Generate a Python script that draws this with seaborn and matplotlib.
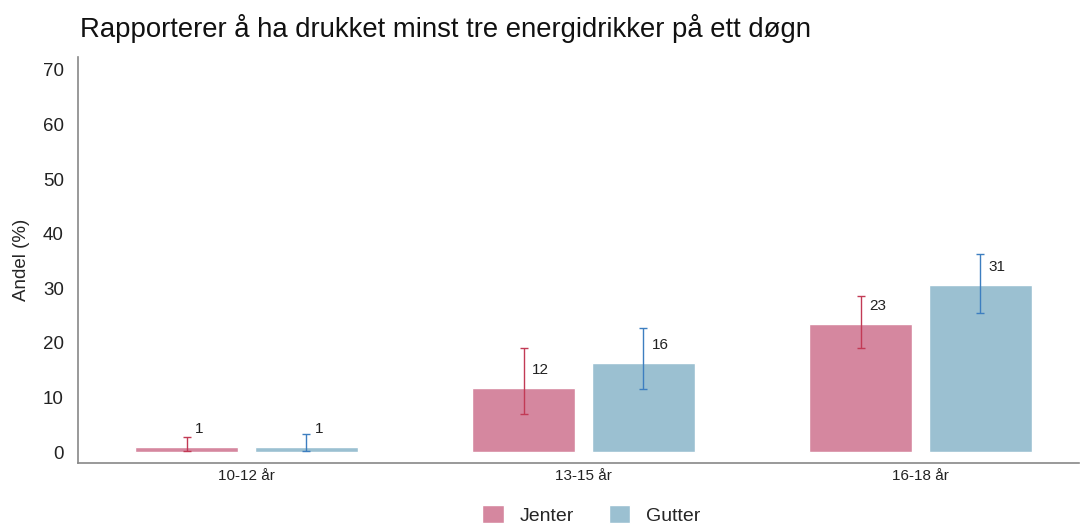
import pandas as pd
import numpy as np
import matplotlib.pyplot as plt
import seaborn as sns

# data
groups = ["10-12 år", "13-15 år", "16-18 år"]
genders = ["Jenter", "Gutter"]
jenter = [0.9, 11.8, 23.4]
gutter = [0.9, 16.4, 30.6]
jenter_lo = [0.3, 7.0, 19.0]
jenter_hi = [2.8, 19.1, 28.6]
gutter_lo = [0.3, 11.6, 25.4]
gutter_hi = [3.3, 22.7, 36.3]
jenter_lab = ["1", "12", "23"]
gutter_lab = ["1", "16", "31"]

bar_colors = {"Jenter": "#D5879F", "Gutter": "#9BC0D1"}
err_colors = {"Jenter": "#C23A55", "Gutter": "#3D7EC0"}

df = pd.DataFrame({
    "alder": groups * 2,
    "kjonn": ["Jenter"] * 3 + ["Gutter"] * 3,
    "andel": jenter + gutter,
})

sns.set_style("white")
plt.rcParams["font.family"] = ["Liberation Sans", "DejaVu Sans"]

fig = plt.figure(figsize=(10.81, 5.24), dpi=100)
ax = fig.add_axes([0.072, 0.116, 0.926, 0.775])

sns.barplot(data=df, x="alder", y="andel", hue="kjonn", order=groups,
            hue_order=genders, palette=bar_colors, width=0.71, gap=0.14,
            saturation=1, errorbar=None, ax=ax, legend=True)

lows = {"Jenter": jenter_lo, "Gutter": gutter_lo}
highs = {"Jenter": jenter_hi, "Gutter": gutter_hi}
vals = {"Jenter": jenter, "Gutter": gutter}
labs = {"Jenter": jenter_lab, "Gutter": gutter_lab}

for cont, g in zip(ax.containers, genders):
    for i, p in enumerate(cont.patches):
        xc = p.get_x() + p.get_width() / 2
        v = vals[g][i]
        lo, hi = lows[g][i], highs[g][i]
        ax.errorbar(xc, v, yerr=[[v - lo], [hi - v]], color=err_colors[g],
                    capsize=3, elinewidth=1, capthick=1, fmt="none")
        ax.annotate(labs[g][i], (xc, v), xytext=(6, 13), textcoords="offset points",
                    ha="left", va="center", fontsize=11, color="#222222")

ax.set_ylim(-2, 72.3)
ax.set_xlim(-0.5, 2.47)
ax.set_yticks(range(0, 71, 10))
ax.tick_params(axis="y", labelsize=13.5, length=0, pad=10, colors="#222222")
ax.tick_params(axis="x", labelsize=11, length=0, pad=4, colors="#222222")
ax.set_xlabel("")
ax.set_ylabel("Andel (%)", fontsize=13.5, labelpad=9)

for s in ["top", "right"]:
    ax.spines[s].set_visible(False)
for s in ["left", "bottom"]:
    ax.spines[s].set_color("#888888")
    ax.spines[s].set_linewidth(1.2)

handles, labels = ax.get_legend_handles_labels()
ax.get_legend().remove()
fig.legend(handles, labels, loc="center", bbox_to_anchor=(0.547, 0.018), ncol=2,
           frameon=False, fontsize=14, handlelength=1.1, handleheight=1.1,
           handletextpad=0.8, columnspacing=1.8)

fig.text(0.074, 0.945, "Rapporterer å ha drukket minst tre energidrikker på ett døgn",
         fontsize=19.8, ha="left", va="center", color="#111111")

fig.savefig("out.png", dpi=100)
